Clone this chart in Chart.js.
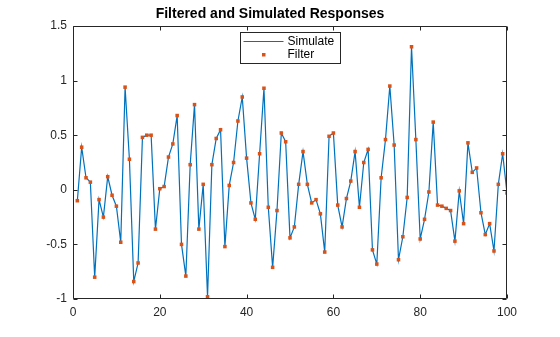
<!DOCTYPE html>
<html>
<head>
<meta charset="utf-8">
<script src="https://cdn.jsdelivr.net/npm/chart.js@4/dist/chart.umd.min.js"></script>
<style>
  html, body { margin: 0; padding: 0; background: #fff; }
  #wrap { width: 560px; height: 337px; }
</style>
</head>
<body>
<div id="wrap"><canvas id="responseChart" width="560" height="337"></canvas></div>
<script>
// output of the filter, one sample per step (the simulation gives the same curve)
const response = [
  -0.10, 0.39, 0.11, 0.07, -0.80, -0.09, -0.25, 0.12, -0.05, -0.15,
  -0.48, 0.94, 0.28, -0.84, -0.67, 0.48, 0.50, 0.50, -0.36, 0.01,
  0.03, 0.30, 0.42, 0.68, -0.50, -0.79, 0.23, 0.78, -0.36, 0.05,
  -0.98, 0.23, 0.47, 0.55, -0.52, 0.04, 0.25, 0.63, 0.85, 0.29,
  -0.12, -0.27, 0.33, 0.93, -0.16, -0.71, -0.19, 0.52, 0.44, -0.44,
  -0.34, 0.05, 0.35, 0.05, -0.12, -0.09, -0.22, -0.57, 0.49, 0.52,
  -0.14, -0.34, -0.08, 0.08, 0.35, -0.16, 0.25, 0.37, -0.55, -0.68,
  0.11, 0.46, 0.95, 0.41, -0.64, -0.43, -0.07, 1.31, 0.46, -0.45,
  -0.27, -0.02, 0.62, -0.14, -0.15, -0.17, -0.19, -0.47, -0.01, -0.31,
  0.43, 0.16, 0.20, -0.21, -0.41, -0.31, -0.56, 0.05, 0.33, -0.03
];
const steps = response.map((v, i) => i + 1);
const xTicks = [0, 20, 40, 60, 80, 100];
const yTicks = [-1, -0.5, 0, 0.5, 1, 1.5];

const seriesNames = ['Simulate', 'Filter'];
const lineColor = '#0072BD';
const markColor = '#D95319';
const axisColor = '#262626';

const points = steps.map((s, i) => ({ x: s, y: response[i] }));

// box round the axes with short inward ticks on every side, plus the legend
const axesFrame = {
  id: 'axesFrame',
  afterDraw(chart) {
    const { ctx, chartArea: a, scales } = chart;
    const L = Math.round(a.left) + 0.5, R = Math.round(a.right) - 0.5;
    const T = Math.round(a.top) + 0.5, B = Math.round(a.bottom) - 0.5;
    const tick = 4;
    ctx.save();
    ctx.strokeStyle = axisColor;
    ctx.lineWidth = 1;
    ctx.beginPath();
    ctx.rect(L, T, R - L, B - T);
    xTicks.forEach(v => {
      const px = Math.round(scales.x.getPixelForValue(v)) + 0.5;
      ctx.moveTo(px, B); ctx.lineTo(px, B - tick);
      ctx.moveTo(px, T); ctx.lineTo(px, T + tick);
    });
    yTicks.forEach(v => {
      const py = Math.round(scales.y.getPixelForValue(v)) + 0.5;
      ctx.moveTo(L, py); ctx.lineTo(L + tick, py);
      ctx.moveTo(R, py); ctx.lineTo(R - tick, py);
    });
    ctx.stroke();

    // legend, top centre inside the axes
    const w = 100, h = 31;
    const lx = Math.round((a.left + a.right) / 2 - w / 2) + 0.5;
    const ly = Math.round(a.top) + 6.5;
    ctx.fillStyle = '#fff';
    ctx.fillRect(lx, ly, w, h);
    ctx.strokeStyle = axisColor;
    ctx.strokeRect(lx, ly, w, h);
    const row1 = ly + 8.5, row2 = ly + 22;
    ctx.strokeStyle = lineColor;
    ctx.beginPath();
    ctx.moveTo(lx + 3, Math.round(row1) + 0.5);
    ctx.lineTo(lx + 43, Math.round(row1) + 0.5);
    ctx.stroke();
    ctx.fillStyle = markColor;
    ctx.fillRect(lx + 21.5, row2 - 1.5, 3.5, 3.5);
    ctx.fillStyle = '#000';
    ctx.font = "12px 'Liberation Sans', Arial, sans-serif";
    ctx.textBaseline = 'middle';
    ctx.textAlign = 'left';
    ctx.fillText(seriesNames[0], lx + 47, row1 + 0.5);
    ctx.fillText(seriesNames[1], lx + 47, row2);
    ctx.restore();
  }
};

Chart.defaults.font.family = "'Liberation Sans', Arial, sans-serif";
Chart.defaults.font.size = 12;
Chart.defaults.color = axisColor;

new Chart(document.getElementById('responseChart').getContext('2d'), {
  type: 'scatter',
  data: {
    datasets: [
      {
        label: seriesNames[1],
        data: points,
        showLine: false,
        pointStyle: 'rect',
        pointRadius: 2.5,
        pointBorderWidth: 0,
        pointBackgroundColor: markColor,
        order: 0
      },
      {
        label: seriesNames[0],
        data: points,
        showLine: true,
        borderColor: lineColor,
        borderWidth: 1.2,
        tension: 0,
        pointRadius: 0,
        order: 1
      }
    ]
  },
  options: {
    responsive: false,
    animation: false,
    events: [],
    // left padding keeps the title centred where the axes put it
    layout: { padding: { left: 33, right: 53, top: 0, bottom: 0 } },
    plugins: {
      legend: { display: false },
      tooltip: { enabled: false },
      title: {
        display: true,
        text: 'Filtered and Simulated Responses',
        color: '#000',
        font: { size: 14, weight: 'bold' },
        padding: { top: 6, bottom: 3.2 }
      }
    },
    scales: {
      x: {
        type: 'linear',
        min: 0,
        max: 100,
        afterBuildTicks: s => { s.ticks = xTicks.map(v => ({ value: v })); },
        afterFit: s => { s.height = 38; },
        grid: { display: false, drawTicks: false },
        border: { display: false },
        ticks: { padding: 6, color: axisColor, maxRotation: 0 }
      },
      y: {
        min: -1,
        max: 1.5,
        afterBuildTicks: s => { s.ticks = yTicks.map(v => ({ value: v })); },
        afterFit: s => { s.width = 40; },
        grid: { display: false, drawTicks: false },
        border: { display: false },
        ticks: { padding: 6, color: axisColor, callback: v => String(v) }
      }
    }
  },
  plugins: [axesFrame]
});
</script>
</body>
</html>
